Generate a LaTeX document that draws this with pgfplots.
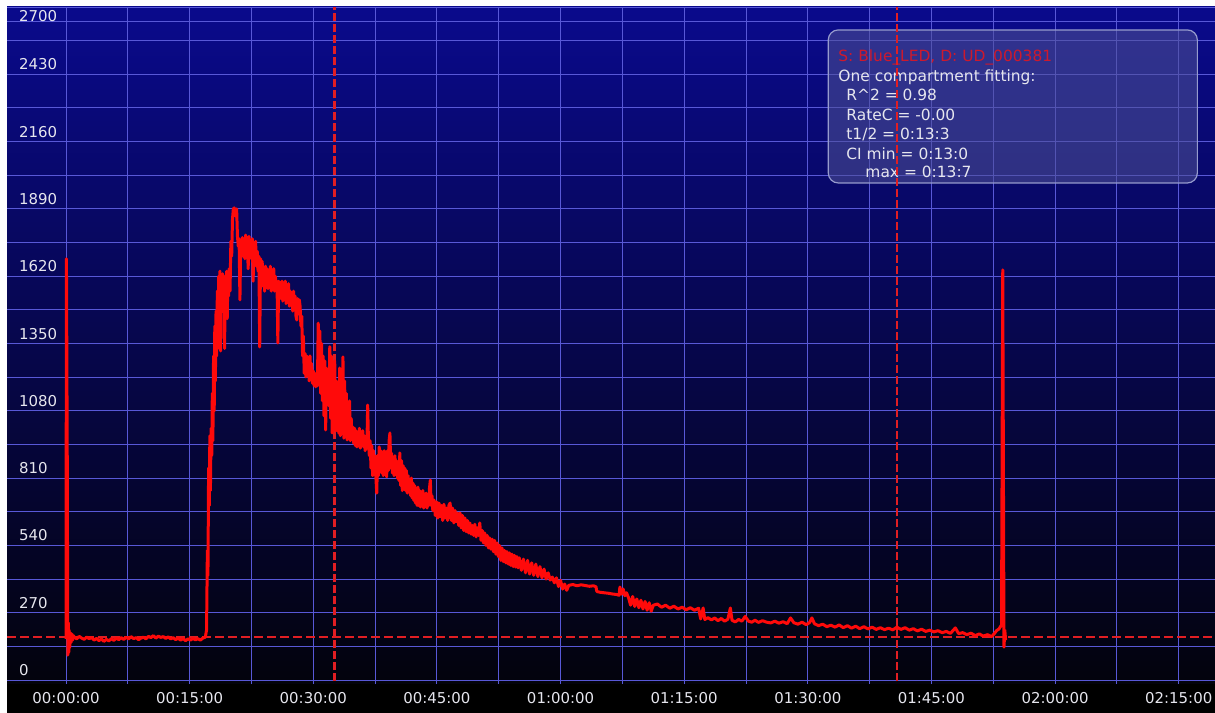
\documentclass[border=0pt]{standalone}
\usepackage{pgfplots}
\usepackage{pgfplotstable}
\pgfplotsset{compat=1.18}
\usepackage{fontspec}
\setmainfont{DejaVu Sans}

\definecolor{bgtop}{RGB}{10,10,140}
\definecolor{bgbot}{RGB}{3,3,12}
\definecolor{gridc}{RGB}{88,88,215}
\definecolor{datac}{RGB}{255,10,10}
\definecolor{dashc}{RGB}{225,30,35}
\definecolor{labc}{RGB}{230,230,238}
\definecolor{boxfill}{RGB}{80,82,150}
\definecolor{boxdraw}{RGB}{150,155,205}
\definecolor{titlec}{RGB}{205,25,45}

\pgfplotstableread[row sep=\\]{
t v \\
0.00 165 \\ 0.05 1690 \\ 0.15 900 \\ 0.22 100 \\ 0.28 230 \\ 0.33 110 \\ 0.38 200 \\ 0.45 130 \\ 0.50 190 \\ 0.60 150 \\ 0.70 185 \\ 0.80 160 \\ 0.90 178 \\
1.0 172 \\ 1.3 165 \\ 1.6 175 \\ 1.9 168 \\ 2.2 163 \\ 2.5 172 \\ 2.8 166 \\ 3.1 170 \\ 3.4 160 \\ 3.7 167 \\ 4.0 158 \\ 4.3 165 \\ 4.6 155 \\ 4.9 163 \\
5.2 157 \\ 5.5 166 \\ 5.8 159 \\ 6.1 168 \\ 6.4 162 \\ 6.7 170 \\ 7.0 163 \\ 7.3 171 \\ 7.6 165 \\ 7.9 174 \\ 8.2 166 \\ 8.5 170 \\ 8.8 162 \\ 9.1 168 \\
9.4 172 \\ 9.7 165 \\ 10.0 175 \\ 10.3 170 \\ 10.6 178 \\ 10.9 168 \\ 11.2 176 \\ 11.5 171 \\ 11.8 174 \\ 12.1 167 \\ 12.4 173 \\ 12.7 165 \\ 13.0 170 \\
13.3 162 \\ 13.6 168 \\ 13.9 160 \\ 14.2 166 \\ 14.5 158 \\ 14.8 165 \\ 15.1 160 \\ 15.4 167 \\ 15.7 161 \\ 16.0 166 \\ 16.3 160 \\ 16.6 168 \\ 16.9 172 \\
17.05 200 \\ 17.15 520 \\ 17.22 420 \\ 17.30 850 \\ 17.38 700 \\ 17.45 980 \\ 17.52 760 \\ 17.60 1010 \\ 17.68 900 \\ 17.75 1150 \\ 17.82 960 \\
17.90 1300 \\ 17.98 1080 \\ 18.05 1420 \\ 18.12 1200 \\ 18.20 1480 \\ 18.28 1300 \\ 18.36 1560 \\ 18.44 1330 \\ 18.52 1620 \\ 18.60 1400 \\
18.68 1640 \\ 18.76 1320 \\ 18.84 1610 \\ 18.92 1480 \\ 19.00 1630 \\ 19.08 1500 \\ 19.16 1600 \\ 19.24 1330 \\ 19.32 1620 \\ 19.40 1520 \\
19.48 1640 \\ 19.56 1450 \\ 19.64 1620 \\ 19.72 1540 \\ 19.80 1650 \\ 19.90 1560 \\ 20.0 1760 \\ 20.1 1700 \\ 20.2 1850 \\ 20.3 1890 \\
20.4 1894 \\ 20.5 1880 \\ 20.6 1860 \\ 20.7 1890 \\ 20.8 1780 \\ 20.9 1740 \\ 21.0 1770 \\ 21.1 1525 \\ 21.2 1760 \\ 21.3 1720 \\
21.4 1775 \\ 21.5 1700 \\ 21.6 1770 \\ 21.7 1690 \\ 21.8 1785 \\ 21.9 1710 \\ 22.0 1760 \\ 22.1 1650 \\ 22.2 1780 \\ 22.3 1700 \\
22.4 1760 \\ 22.5 1690 \\ 22.6 1770 \\ 22.7 1600 \\ 22.8 1740 \\ 22.9 1680 \\ 23.0 1760 \\ 23.1 1660 \\ 23.2 1720 \\ 23.3 1640 \\
23.4 1700 \\ 23.5 1336 \\ 23.6 1690 \\ 23.7 1600 \\ 23.8 1680 \\ 23.9 1580 \\ 24.0 1650 \\ 24.1 1560 \\ 24.2 1660 \\ 24.3 1590 \\
24.4 1650 \\ 24.5 1570 \\ 24.6 1640 \\ 24.7 1580 \\ 24.8 1660 \\ 24.9 1560 \\ 25.0 1630 \\ 25.1 1580 \\ 25.2 1650 \\ 25.3 1560 \\
25.4 1620 \\ 25.5 1570 \\ 25.6 1600 \\ 25.7 1352 \\ 25.8 1600 \\ 25.9 1540 \\ 26.0 1590 \\ 26.1 1530 \\ 26.2 1600 \\ 26.3 1520 \\
26.4 1580 \\ 26.5 1540 \\ 26.6 1600 \\ 26.7 1510 \\ 26.8 1580 \\ 26.9 1530 \\ 27.0 1590 \\ 27.1 1500 \\ 27.2 1560 \\ 27.3 1520 \\
27.4 1550 \\ 27.5 1480 \\ 27.6 1560 \\ 27.7 1500 \\ 27.8 1540 \\ 27.9 1460 \\ 28.0 1444 \\ 28.1 1530 \\ 28.2 1490 \\ 28.3 1525 \\
28.4 1500 \\ 28.5 1420 \\ 28.6 1460 \\ 28.7 1300 \\ 28.8 1380 \\ 28.9 1230 \\ 29.0 1310 \\ 29.1 1216 \\ 29.2 1300 \\ 29.3 1220 \\
29.4 1280 \\ 29.5 1200 \\ 29.6 1300 \\ 29.7 1210 \\ 29.8 1270 \\ 29.9 1190 \\ 30.0 1240 \\ 30.1 1180 \\ 30.2 1230 \\ 30.3 1176 \\
30.4 1220 \\ 30.5 1180 \\ 30.6 1432 \\ 30.7 1250 \\ 30.8 1400 \\ 30.9 1150 \\ 31.0 1350 \\ 31.1 1120 \\ 31.2 1300 \\ 31.3 1060 \\
31.4 1280 \\ 31.5 1003 \\ 31.6 1250 \\ 31.7 1135 \\ 31.8 1200 \\ 31.9 1100 \\ 32.0 1337 \\ 32.1 1050 \\ 32.2 1300 \\ 32.3 991 \\
32.4 1250 \\ 32.5 1020 \\ 32.6 1280 \\ 32.7 1000 \\ 32.8 1200 \\ 32.9 1000 \\ 33.0 1150 \\ 33.1 990 \\ 33.2 1252 \\ 33.3 980 \\
33.4 1230 \\ 33.5 1000 \\ 33.6 1296 \\ 33.7 970 \\ 33.8 1200 \\ 33.9 990 \\ 34.0 1150 \\ 34.1 963 \\ 34.2 1100 \\ 34.3 980 \\
34.4 1120 \\ 34.5 960 \\ 34.6 1050 \\ 34.7 970 \\ 34.8 1015 \\ 34.9 950 \\ 35.0 1010 \\ 35.1 940 \\ 35.2 1000 \\ 35.3 935 \\
35.4 990 \\ 35.5 950 \\ 35.6 1010 \\ 35.7 930 \\ 35.8 990 \\ 35.9 940 \\ 36.0 1000 \\ 36.1 935 \\ 36.2 980 \\ 36.3 920 \\
36.4 970 \\ 36.5 930 \\ 36.6 1103 \\ 36.7 950 \\ 36.8 900 \\ 36.9 960 \\ 37.0 850 \\ 37.1 940 \\ 37.2 820 \\ 37.3 920 \\
37.4 830 \\ 37.5 900 \\ 37.6 810 \\ 37.7 750 \\ 37.8 900 \\ 37.9 820 \\ 38.0 935 \\ 38.1 840 \\ 38.2 920 \\ 38.3 830 \\
38.4 900 \\ 38.5 820 \\ 38.6 920 \\ 38.7 830 \\ 38.8 900 \\ 38.9 815 \\ 39.0 920 \\ 39.1 840 \\ 39.2 960 \\ 39.3 991 \\
39.4 850 \\ 39.5 910 \\ 39.6 830 \\ 39.7 890 \\ 39.8 820 \\ 39.9 900 \\ 40.0 830 \\ 40.1 880 \\ 40.2 810 \\ 40.3 870 \\
40.4 800 \\ 40.5 911 \\ 40.6 780 \\ 40.7 880 \\ 40.8 760 \\ 40.9 860 \\ 41.0 770 \\ 41.1 850 \\ 41.2 760 \\ 41.3 840 \\
41.4 750 \\ 41.5 820 \\ 41.6 760 \\ 41.7 800 \\ 41.8 740 \\ 41.9 810 \\ 42.0 730 \\ 42.1 790 \\ 42.2 720 \\ 42.3 780 \\
42.4 710 \\ 42.5 770 \\ 42.6 700 \\ 42.7 774 \\ 42.8 700 \\ 42.9 760 \\ 43.0 694 \\ 43.1 750 \\ 43.2 700 \\ 43.3 760 \\
43.4 690 \\ 43.5 740 \\ 43.6 700 \\ 43.7 750 \\ 43.8 690 \\ 43.9 740 \\ 44.0 700 \\ 44.1 770 \\ 44.2 802 \\ 44.3 700 \\
44.4 740 \\ 44.5 680 \\ 44.65 722 \\ 44.8 660 \\ 44.95 715 \\ 45.1 650 \\ 45.25 710 \\ 45.4 655 \\ 45.55 700 \\ 45.7 640 \\
45.85 705 \\ 46.0 650 \\ 46.15 690 \\ 46.3 640 \\ 46.45 700 \\ 46.6 710 \\ 46.75 640 \\ 46.9 690 \\ 47.05 630 \\ 47.2 680 \\
47.35 635 \\ 47.5 670 \\ 47.65 620 \\ 47.8 670 \\ 47.95 610 \\ 48.1 660 \\ 48.25 600 \\ 48.4 650 \\ 48.55 595 \\ 48.7 640 \\
48.85 590 \\ 49.0 630 \\ 49.15 585 \\ 49.3 620 \\ 49.45 580 \\ 49.6 625 \\ 49.75 574 \\ 49.9 610 \\ 50.05 580 \\ 50.2 630 \\
50.35 560 \\ 50.5 600 \\ 50.65 550 \\ 50.8 590 \\ 50.95 540 \\ 51.1 580 \\ 51.25 530 \\ 51.4 570 \\ 51.55 525 \\ 51.7 565 \\
51.85 515 \\ 52.0 560 \\ 52.15 505 \\ 52.3 550 \\ 52.45 495 \\ 52.6 540 \\ 52.75 480 \\ 52.9 530 \\ 53.05 475 \\ 53.2 520 \\
53.35 470 \\ 53.5 515 \\ 53.65 465 \\ 53.8 510 \\ 53.95 460 \\ 54.1 505 \\ 54.25 455 \\ 54.4 500 \\ 54.55 453 \\ 54.7 495 \\
54.85 450 \\ 55.0 490 \\ 55.25 440 \\ 55.5 485 \\ 55.75 430 \\ 56.0 480 \\ 56.25 425 \\ 56.5 470 \\ 56.75 420 \\ 57.0 465 \\
57.25 415 \\ 57.5 455 \\ 57.75 410 \\ 58.0 445 \\ 58.25 405 \\ 58.5 430 \\ 58.75 401 \\ 59.0 413 \\ 59.25 390 \\ 59.5 410 \\
59.75 375 \\ 60.0 400 \\ 60.25 365 \\ 60.5 385 \\ 60.75 360 \\ 61.0 380 \\ 61.5 383 \\ 62.0 378 \\ 62.5 382 \\ 63.0 379 \\
63.5 376 \\ 64.0 378 \\ 64.3 374 \\ 64.4 355 \\ 64.8 352 \\ 65.3 350 \\ 65.8 348 \\ 66.3 345 \\ 66.8 343 \\ 67.1 340 \\
67.2 373 \\ 67.4 345 \\ 67.6 365 \\ 67.8 338 \\ 68.0 350 \\ 68.25 330 \\ 68.5 300 \\ 68.75 335 \\ 69.0 295 \\ 69.25 325 \\
69.5 290 \\ 69.75 320 \\ 70.0 285 \\ 70.25 315 \\ 70.5 280 \\ 70.75 310 \\ 71.0 276 \\ 71.25 300 \\ 71.75 305 \\ 72.25 292 \\
72.75 300 \\ 73.25 288 \\ 73.75 296 \\ 74.25 285 \\ 74.75 292 \\ 75.25 282 \\ 75.75 290 \\ 76.25 280 \\ 76.75 288 \\ 77.0 245 \\
77.3 289 \\ 77.5 243 \\ 77.9 250 \\ 78.3 241 \\ 78.7 249 \\ 79.1 238 \\ 79.5 247 \\ 79.9 236 \\ 80.3 244 \\ 80.6 289 \\
80.8 240 \\ 81.2 233 \\ 81.6 243 \\ 82.0 236 \\ 82.4 255 \\ 82.8 236 \\ 83.2 232 \\ 83.6 240 \\ 84.0 231 \\ 84.5 238 \\
85.0 232 \\ 85.5 229 \\ 86.0 236 \\ 86.5 228 \\ 87.0 234 \\ 87.5 226 \\ 87.9 249 \\ 88.3 230 \\ 88.8 224 \\ 89.3 232 \\
89.8 222 \\ 90.2 230 \\ 90.5 249 \\ 90.8 226 \\ 91.3 218 \\ 91.8 224 \\ 92.3 214 \\ 92.8 220 \\ 93.3 212 \\ 93.8 221 \\
94.3 210 \\ 94.8 218 \\ 95.3 208 \\ 95.8 216 \\ 96.3 206 \\ 96.8 214 \\ 97.3 205 \\ 97.8 212 \\ 98.3 203 \\ 98.8 210 \\
99.3 202 \\ 99.8 208 \\ 100.3 201 \\ 100.8 212 \\ 101.3 203 \\ 101.8 210 \\ 102.3 200 \\ 102.8 206 \\ 103.3 197 \\ 103.8 204 \\
104.3 195 \\ 104.8 200 \\ 105.3 193 \\ 105.8 198 \\ 106.3 190 \\ 106.8 195 \\ 107.3 187 \\ 107.9 209 \\ 108.3 186 \\ 108.8 190 \\
109.3 182 \\ 109.8 188 \\ 110.3 178 \\ 110.8 185 \\ 111.3 176 \\ 111.8 182 \\ 112.3 174 \\ 112.6 185 \\ 112.9 198 \\ 113.2 205 \\
113.5 221 \\ 113.65 1645 \\ 113.8 132 \\ 113.9 200 \\ 114.0 160 \\
}\datatab

\newcommand{\tickfont}{\fontsize{15}{18}\selectfont}
\newcommand{\boxfont}{\fontsize{15.5}{18}\selectfont}

\begin{document}
\begin{tikzpicture}
\fill[white] (0,0) rectangle (1215bp,713bp);
\useasboundingbox (0,0) rectangle (1215bp,713bp);
\fill[black] (7bp,0) rectangle (1215bp,29bp);
\begin{axis}[
  at={(7bp,29bp)}, anchor=south west,
  scale only axis, width=1208bp, height=677bp,
  xmin=-7.16, xmax=139.4, ymin=-16, ymax=2700,
  axis line style={draw=none},
  axis background/.style={top color=bgtop, bottom color=bgbot},
  tick style={draw=none}, major tick length=0pt, minor tick length=0pt,
  grid=both,
  major grid style={gridc, line width=0.9bp},
  minor grid style={gridc, line width=0.9bp},
  xtick={0,15,30,45,60,75,90,105,120,135},
  xticklabels={00:00:00,00:15:00,00:30:00,00:45:00,01:00:00,01:15:00,01:30:00,01:45:00,02:00:00,02:15:00},
  minor xtick={7.5,22.5,37.5,52.5,67.5,82.5,97.5,112.5,127.5},
  ytick={0,270,540,810,1080,1350,1620,1890,2160,2430,2700},
  yticklabels={0,270,540,810,1080,1350,1620,1890,2160,2430,{}},
  minor ytick={135,405,675,945,1215,1485,1755,2025,2295,2565},
  extra y ticks={2644},
  extra y tick labels={2700},
  extra y tick style={grid=major, tick label style={yshift=-5bp}},
  xticklabel style={anchor=north, inner sep=0pt, yshift=-8bp, font=\tickfont, text=labc},
  yticklabel style={anchor=south west, inner sep=0pt, xshift=12bp, yshift=4bp, font=\tickfont, text=labc},
  clip=true,
]
\draw[boxdraw, line width=1.2bp, fill=boxfill, fill opacity=0.55, rounded corners=10bp]
  (axis cs:92.48,2608) rectangle (axis cs:137.26,1994);
\node[anchor=base west, inner sep=0pt, text=titlec, font=\boxfont] at (axis cs:93.69,2480) {S: Blue\_LED, D: UD\_000381};
\node[anchor=base west, inner sep=0pt, text=labc, font=\boxfont] at (axis cs:93.69,2402) {One compartment fitting:};
\node[anchor=base west, inner sep=0pt, text=labc, font=\boxfont] at (axis cs:94.66,2324) {R\textasciicircum 2 = 0.98};
\node[anchor=base west, inner sep=0pt, text=labc, font=\boxfont] at (axis cs:94.66,2245) {RateC = -0.00};
\node[anchor=base west, inner sep=0pt, text=labc, font=\boxfont] at (axis cs:94.66,2168) {t1/2 = 0:13:3};
\node[anchor=base west, inner sep=0pt, text=labc, font=\boxfont] at (axis cs:94.66,2090) {CI min = 0:13:0};
\node[anchor=base west, inner sep=0pt, text=labc, font=\boxfont] at (axis cs:96.97,2014) {max = 0:13:7};
\addplot[dashc, line width=2.6bp, dash pattern=on 9bp off 4bp] coordinates {(-7.16,172) (139.4,172)};
\addplot[dashc, line width=2.6bp, dash pattern=on 8bp off 3bp] coordinates {(32.6,-5) (32.6,2700)};
\addplot[dashc, line width=2.6bp, dash pattern=on 8bp off 3bp] coordinates {(100.8,-5) (100.8,2700)};
\addplot[datac, line width=3bp, line join=round] table[x=t, y=v] {\datatab};
\end{axis}
\end{tikzpicture}
\end{document}
